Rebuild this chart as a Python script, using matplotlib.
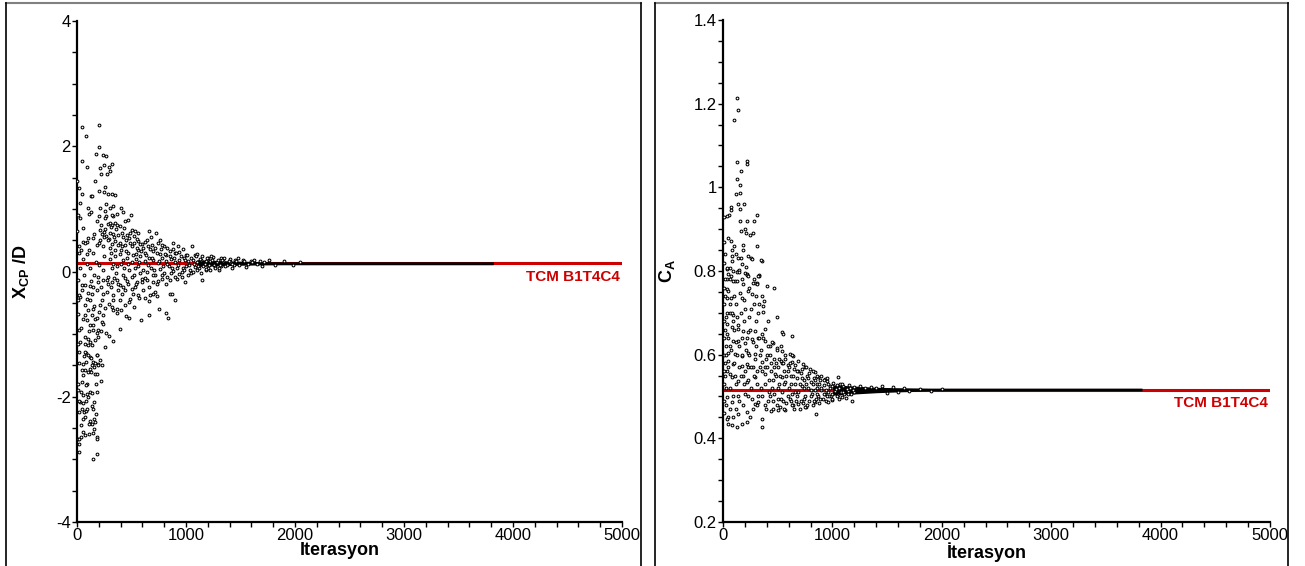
import numpy as np
import matplotlib
matplotlib.use("Agg")
import matplotlib.pyplot as plt
from matplotlib.lines import Line2D
from matplotlib.ticker import MultipleLocator

plt.rcParams['font.family'] = ['Liberation Sans', 'DejaVu Sans']
plt.rcParams['mathtext.fontset'] = 'custom'
plt.rcParams['mathtext.rm'] = 'Liberation Sans'
plt.rcParams['mathtext.bf'] = 'Liberation Sans:bold'

# Data: (iteration, value)
xcp_points = [
    (205, 2.34), (43, 2.30), (83, 2.17), (205, 1.99), (171, 1.88), (235, 1.86), (265, 1.85),
    (49, 1.77), (94, 1.67), (246, 1.70), (214, 1.66), (290, 1.67), (318, 1.71), (220, 1.55),
    (274, 1.55), (305, 1.61), (161, 1.44), (2, 1.45), (257, 1.35), (205, 1.28), (250, 1.27),
    (281, 1.24), (318, 1.24), (349, 1.22), (21, 1.33), (49, 1.23), (125, 1.20), (140, 1.20),
    (30, 1.09), (104, 1.01), (214, 1.01), (254, 0.97), (306, 1.01), (333, 1.05), (400, 1.01),
    (492, 0.91), (367, 0.92), (266, 1.07), (113, 0.92), (128, 0.95), (205, 0.88), (266, 0.89),
    (333, 0.89), (425, 0.95), (437, 0.80), (471, 0.82),
    (280, 0.76), (300, 0.78), (320, 0.74), (345, 0.77), (370, 0.75), (395, 0.73), (310, 0.71),
    (58, 0.70), (2, 0.64), (104, 0.54), (150, 0.54),
    (210, 0.66), (230, 0.60), (250, 0.63), (270, 0.57), (290, 0.52), (215, 0.50), (260, 0.68), (245, 0.55),
    (502, 0.67), (532, 0.65), (563, 0.62), (660, 0.64), (725, 0.61), (761, 0.51), (58, 0.47),
    (95, 0.47), (1052, 0.40), (975, 0.36), (883, 0.36),
    (333, 0.60), (380, 0.58), (420, 0.55), (450, 0.50), (480, 0.53), (520, 0.46), (560, 0.48),
    (600, 0.44), (640, 0.50), (690, 0.42), (740, 0.45), (800, 0.40), (850, 0.33), (610, 0.38),
    (560, 0.35), (500, 0.40), (440, 0.42), (390, 0.46), (350, 0.49), (320, 0.44), (300, 0.38),
    (400, 0.34), (470, 0.30), (540, 0.28), (620, 0.30), (700, 0.32), (760, 0.28), (820, 0.27),
    (900, 0.29), (940, 0.31), (1000, 0.27), (1080, 0.26), (1150, 0.24), (1200, 0.22), (1250, 0.23),
    (1320, 0.21), (1400, 0.20), (1450, 0.19), (1520, 0.18), (1600, 0.17), (1680, 0.165),
    (10, 0.90), (15, 0.30), (20, 0.40), (30, 0.85), (40, 0.35), (55, 0.20), (70, 0.45), (90, 0.28),
    (110, 0.35), (150, 0.30), (180, 0.42),
    (120, 0.05), (160, -0.05), (200, 0.10), (240, 0.02), (280, -0.08), (320, 0.05), (360, -0.02),
    (400, 0.12), (440, -0.10), (480, 0.02), (520, -0.05), (560, 0.08), (600, -0.12), (640, 0.00),
    (680, 0.06), (720, -0.06), (760, 0.04), (800, -0.02), (840, 0.09), (880, 0.01), (920, 0.05),
    (960, 0.00), (1000, 0.08), (1040, 0.03), (1080, 0.07), (1120, 0.05), (1160, 0.09), (1200, 0.06),
    (1260, 0.10), (1320, 0.08), (1380, 0.11), (1440, 0.10),
    (300, 0.20), (350, 0.25), (420, 0.18), (460, 0.22), (500, 0.15), (540, 0.20), (580, 0.24),
    (620, 0.17), (660, 0.22), (700, 0.19), (740, 0.14), (780, 0.21), (820, 0.17), (860, 0.20),
    (900, 0.15), (940, 0.18), (980, 0.21), (1020, 0.16), (1060, 0.19), (1100, 0.15), (1140, 0.18),
    (1180, 0.16), (1220, 0.17), (1280, 0.15), (1340, 0.16), (1400, 0.15),
    (1150, -0.13), (991, -0.17), (899, -0.45), (837, -0.74), (814, -0.66), (755, -0.60), (663, -0.69),
    (587, -0.77), (663, -0.47), (397, -0.92), (333, -1.11), (260, -1.20), (296, -1.03), (269, -0.98),
    (452, -0.71), (477, -0.74), (320, -0.56), (333, -0.62), (370, -0.67), (407, -0.62), (523, -0.57),
    (572, -0.42), (624, -0.43), (670, -0.38), (716, -0.33), (731, -0.39), (853, -0.36), (869, -0.36),
    (43, -0.22), (73, -0.22), (119, -0.23), (150, -0.25), (180, -0.30), (196, -0.17), (242, -0.14),
    (272, -0.14), (288, -0.20), (318, -0.17), (364, -0.13), (394, -0.21), (425, -0.25), (471, -0.20),
    (502, -0.28), (532, -0.25), (547, -0.17), (593, -0.17), (639, -0.14), (700, -0.17), (731, -0.20),
    (777, -0.12), (823, -0.09), (853, -0.14), (914, -0.12), (960, -0.09),
    (28, -0.41), (89, -0.44), (135, -0.36), (242, -0.36), (272, -0.33), (333, -0.38), (379, -0.30),
    (410, -0.36), (440, -0.30), (486, -0.44), (517, -0.36), (563, -0.38), (608, -0.30), (700, -0.36),
    (73, -0.54), (104, -0.62), (150, -0.60), (211, -0.54), (235, -0.69), (296, -0.52), (333, -0.46),
    (364, -0.60), (394, -0.45), (440, -0.54), (480, -0.48),
    (58, -0.76), (89, -0.78), (119, -0.86), (150, -0.86), (165, -0.76), (226, -0.81), (242, -0.84),
    (196, -0.94), (150, -0.94),
    (73, -1.05), (104, -1.08), (119, -1.13), (180, -0.99), (196, -1.05), (28, -1.13), (73, -1.16),
    (104, -1.18), (165, -1.10), (135, -1.18),
    (83, -1.30), (119, -1.37), (180, -1.33), (150, -1.44), (196, -1.47), (58, -1.47), (104, -1.61),
    (165, -1.63), (43, -1.77), (89, -1.79), (83, -1.82),
    (186, -1.33), (217, -1.75), (183, -1.63), (196, -1.50), (226, -1.50), (211, -1.42), (138, -1.50),
    (156, -1.53), (119, -1.55), (73, -1.58), (58, -1.66), (43, -1.58), (76, -1.29), (101, -1.34),
    (131, -1.38), (86, -1.45), (162, -1.46),
    (119, -1.93), (135, -1.94), (180, -1.93), (89, -1.96), (58, -1.98), (34, -1.92), (28, -2.09),
    (52, -2.10), (83, -2.06), (156, -2.09), (138, -2.15), (43, -2.19), (64, -2.25), (83, -2.22),
    (95, -2.19), (73, -2.33), (52, -2.35), (174, -2.27), (156, -2.35), (165, -2.41), (119, -2.39),
    (135, -2.43), (113, -2.43), (156, -2.51), (144, -2.58), (186, -2.65), (186, -2.68), (58, -2.56),
    (73, -2.61), (37, -2.65), (12, -2.68), (21, -2.75), (21, -2.89), (180, -2.91), (144, -3.00),
    (10, -0.14), (15, -0.38), (12, -0.46), (8, -0.68), (15, -0.94), (10, -1.16), (14, -1.28),
    (18, -1.46), (8, -1.79), (5, -1.90), (16, -2.06), (14, -2.25), (18, -2.67),
    (1050, -0.02), (1100, 0.28), (1180, 0.02), (1230, 0.25), (1300, 0.03), (1350, 0.22),
    (1420, 0.06), (1480, 0.21), (1550, 0.07), (1620, 0.19), (1700, 0.09), (1760, 0.18),
    (1820, 0.10), (1900, 0.16), (1980, 0.11), (2050, 0.155),
    # dense core
    (310, 0.30), (330, 0.12), (350, 0.35), (370, 0.08), (390, 0.28), (410, 0.40), (430, 0.05),
    (450, 0.32), (470, 0.12), (490, 0.45), (510, 0.26), (530, 0.05), (550, 0.38), (570, 0.15),
    (590, 0.33), (610, 0.02), (630, 0.27), (650, 0.10), (670, 0.36), (690, 0.22), (710, 0.03),
    (730, 0.30), (750, 0.16), (770, 0.36), (790, 0.08), (810, 0.28), (830, 0.12), (850, 0.24),
    (870, 0.05), (890, 0.22), (910, 0.30), (930, 0.10), (950, 0.25), (970, 0.06), (990, 0.18),
    (1010, 0.26), (1030, 0.10), (1050, 0.21), (1070, 0.12), (1090, 0.24), (1110, 0.08), (1130, 0.20),
    (1170, 0.12), (1190, 0.21), (1210, 0.10), (1240, 0.19), (1270, 0.07), (1290, 0.18), (1310, 0.11),
    (1330, 0.19), (1360, 0.09), (1390, 0.17), (1420, 0.12), (1460, 0.16), (1490, 0.11), (1530, 0.16),
    (1570, 0.12), (1610, 0.155), (1650, 0.115), (1720, 0.15),
    (310, -0.25), (340, -0.10), (380, -0.20), (420, -0.05), (460, -0.15), (500, -0.08), (540, -0.20),
    (580, -0.03), (620, -0.10), (660, -0.25), (700, -0.05), (740, -0.15), (780, -0.05), (820, -0.20),
    (860, -0.02), (900, -0.08), (940, -0.04), (980, 0.02), (1020, -0.06), (1060, 0.00), (1100, 0.02),
    (1140, -0.02), (1180, 0.04), (1220, 0.03), (1270, 0.05), (1300, 0.06),
    (160, 0.60), (180, 0.80), (200, 0.45), (220, 0.75), (240, 0.40), (260, 0.85), (280, 0.50),
    (300, 0.62), (320, 0.90), (340, 0.55), (360, 0.68), (380, 0.42), (410, 0.62), (430, 0.70),
    (460, 0.58), (490, 0.62), (520, 0.56), (550, 0.52), (580, 0.44), (620, 0.47), (650, 0.41),
    (680, 0.55), (720, 0.38), (780, 0.42), (830, 0.38), (880, 0.45), (930, 0.40),
    (30, 0.05), (60, -0.05), (90, 0.12), (130, -0.15), (170, 0.15), (190, -0.08), (220, -0.25),
    (250, 0.25), (120, -0.45), (160, -0.55), (200, -0.65), (230, -0.45), (260, -0.58), (50, -0.30),
    (100, -0.35), (140, -0.70), (180, -0.75), (220, -0.95), (40, -0.90), (70, -0.70), (110, -0.95),
    (60, -1.35), (130, -1.60), (170, -1.80), (100, -2.00), (150, -2.20), (40, -2.45), (110, -2.60),
]

ca_points = [
    (125, 1.213), (140, 1.186), (104, 1.161), (131, 1.060), (222, 1.064), (222, 1.056), (165, 1.038),
    (131, 1.020), (155, 1.005), (116, 0.983), (155, 0.986), (140, 0.959), (189, 0.959), (155, 0.948),
    (73, 0.953), (73, 0.945), (55, 0.935), (40, 0.931), (308, 0.935), (158, 0.919), (222, 0.919),
    (283, 0.919), (162, 0.895), (201, 0.901), (207, 0.891), (247, 0.885), (277, 0.891), (73, 0.871),
    (85, 0.850), (104, 0.860), (180, 0.862), (186, 0.850), (308, 0.859), (231, 0.836), (256, 0.832),
    (262, 0.829), (354, 0.825), (165, 0.830), (140, 0.832), (85, 0.836), (79, 0.824), (171, 0.816),
    (64, 0.808), (34, 0.804), (134, 0.800), (146, 0.802), (201, 0.795), (222, 0.792), (332, 0.790),
    (40, 0.808), (130, 0.798), (145, 0.798), (75, 0.787), (110, 0.776), (130, 0.776), (180, 0.770),
    (290, 0.771), (310, 0.771), (330, 0.788), (350, 0.826), (405, 0.763), (469, 0.759),
    (217, 0.790), (231, 0.788), (323, 0.788), (49, 0.792), (34, 0.780), (94, 0.776), (277, 0.772),
    (308, 0.768), (34, 0.756), (49, 0.751), (73, 0.736), (34, 0.736), (155, 0.748), (171, 0.736),
    (231, 0.752), (262, 0.745), (354, 0.740), (378, 0.729), (363, 0.717), (369, 0.701), (414, 0.681),
    (491, 0.689),
    (34, 0.700), (64, 0.700), (94, 0.695), (125, 0.690), (34, 0.673), (79, 0.665), (140, 0.661),
    (186, 0.657), (231, 0.653), (292, 0.657), (537, 0.653), (552, 0.649), (634, 0.645), (384, 0.661),
    (354, 0.649), (323, 0.641),
    (49, 0.641), (94, 0.633), (140, 0.633), (201, 0.629), (262, 0.637), (384, 0.633), (460, 0.629),
    (430, 0.621), (491, 0.617), (537, 0.609),
    (49, 0.605), (110, 0.602), (171, 0.598), (231, 0.605), (292, 0.602), (612, 0.602), (643, 0.598),
    (567, 0.590), (628, 0.582),
    (49, 0.586), (94, 0.578), (171, 0.574), (217, 0.578), (277, 0.570), (354, 0.582), (734, 0.578),
    (750, 0.570), (688, 0.562), (795, 0.566), (841, 0.558), (871, 0.546), (932, 0.542), (1054, 0.546),
    (34, 0.562), (64, 0.554), (79, 0.546), (140, 0.538), (186, 0.550), (217, 0.534), (292, 0.546),
    (384, 0.554), (475, 0.554), (537, 0.546),
    (400, 0.600), (440, 0.580), (470, 0.590), (500, 0.570), (530, 0.585), (560, 0.560), (590, 0.575),
    (620, 0.550), (650, 0.565), (680, 0.545), (710, 0.555), (740, 0.540), (770, 0.550), (800, 0.535),
    (830, 0.545), (860, 0.530), (890, 0.540), (920, 0.528), (950, 0.536), (980, 0.525), (1010, 0.532),
    (1040, 0.527), (1070, 0.530), (1100, 0.524), (1150, 0.528), (1200, 0.522), (1250, 0.525),
    (1300, 0.521), (1350, 0.523), (1400, 0.520),
    (420, 0.540), (450, 0.520), (480, 0.550), (510, 0.530), (540, 0.510), (570, 0.535), (600, 0.520),
    (630, 0.505), (660, 0.530), (690, 0.510), (720, 0.525), (750, 0.500), (780, 0.520), (810, 0.505),
    (840, 0.515), (870, 0.500), (900, 0.515), (930, 0.505), (960, 0.510), (990, 0.500), (1020, 0.512),
    (1050, 0.503), (1080, 0.510), (1110, 0.505), (1140, 0.512), (1170, 0.507), (1200, 0.511),
    (430, 0.500), (460, 0.490), (500, 0.495), (520, 0.475), (550, 0.490), (580, 0.485), (610, 0.495),
    (640, 0.480), (670, 0.490), (700, 0.470), (730, 0.485), (760, 0.475), (790, 0.490), (820, 0.480),
    (850, 0.495), (880, 0.485), (910, 0.495), (940, 0.490), (970, 0.500), (1000, 0.492), (1060, 0.495),
    (1120, 0.497),
    (34, 0.498), (79, 0.486), (140, 0.502), (201, 0.506), (262, 0.495), (292, 0.483), (49, 0.451),
    (34, 0.447), (94, 0.451), (140, 0.459), (217, 0.463), (247, 0.451), (43, 0.435), (79, 0.431),
    (125, 0.427), (171, 0.435), (217, 0.439), (354, 0.447), (354, 0.427), (308, 0.479), (323, 0.486),
    (384, 0.479), (460, 0.471), (506, 0.467), (567, 0.467), (628, 0.479), (688, 0.483), (750, 0.475),
    (841, 0.486), (850, 0.459), (963, 0.486), (994, 0.495), (1085, 0.498), (1145, 0.506), (1176, 0.490),
    (5, 0.930), (8, 0.870), (10, 0.820), (5, 0.760), (12, 0.720), (8, 0.680), (10, 0.640), (5, 0.600),
    (12, 0.560), (8, 0.530), (10, 0.490), (5, 0.460), (15, 0.780), (18, 0.660), (20, 0.580),
    (22, 0.740), (25, 0.620), (28, 0.690), (25, 0.520), (30, 0.600),
    (60, 0.720), (90, 0.680), (120, 0.720), (160, 0.700), (200, 0.710), (240, 0.690), (280, 0.720),
    (320, 0.700), (60, 0.620), (100, 0.660), (130, 0.600), (170, 0.640), (210, 0.610), (250, 0.660),
    (300, 0.620), (340, 0.600), (60, 0.520), (110, 0.550), (150, 0.570), (190, 0.530), (230, 0.570),
    (260, 0.520), (310, 0.560), (350, 0.520), (380, 0.570),
    (1450, 0.524), (1500, 0.509), (1550, 0.522), (1600, 0.511), (1650, 0.521), (1700, 0.512),
    (1800, 0.519), (1900, 0.514), (2000, 0.518),
    # dense core
    (360, 0.56), (380, 0.53), (400, 0.57), (420, 0.51), (440, 0.56), (460, 0.54), (480, 0.58),
    (500, 0.52), (520, 0.55), (540, 0.58), (560, 0.53), (580, 0.55), (600, 0.57), (620, 0.53),
    (640, 0.55), (660, 0.51), (680, 0.56), (700, 0.53), (720, 0.545), (740, 0.52), (760, 0.53),
    (780, 0.545), (800, 0.515), (820, 0.53), (840, 0.54), (860, 0.52), (880, 0.53), (900, 0.52),
    (920, 0.54), (940, 0.515), (960, 0.53), (980, 0.52), (1000, 0.525), (1030, 0.517), (1060, 0.52),
    (1090, 0.53), (1130, 0.518), (1160, 0.521), (1190, 0.516),
    (350, 0.61), (370, 0.64), (390, 0.59), (410, 0.62), (430, 0.60), (450, 0.63), (470, 0.57),
    (490, 0.61), (510, 0.59), (530, 0.62), (550, 0.58), (570, 0.60), (590, 0.56), (610, 0.58),
    (630, 0.60), (660, 0.575), (690, 0.585), (720, 0.565), (760, 0.57), (790, 0.555), (820, 0.56),
    (860, 0.55), (900, 0.55), (950, 0.545),
    (360, 0.50), (390, 0.47), (410, 0.49), (440, 0.465), (470, 0.505), (490, 0.48), (530, 0.495),
    (560, 0.47), (590, 0.50), (620, 0.49), (650, 0.47), (680, 0.50), (710, 0.49), (740, 0.495),
    (770, 0.48), (800, 0.50), (830, 0.49), (860, 0.505), (890, 0.495), (920, 0.505), (950, 0.50),
    (1000, 0.505), (1040, 0.50), (1100, 0.51),
    (20, 0.55), (40, 0.65), (50, 0.57), (70, 0.61), (80, 0.70), (100, 0.58), (115, 0.63), (120, 0.53),
    (135, 0.67), (150, 0.62), (160, 0.55), (175, 0.60), (190, 0.68), (200, 0.56), (215, 0.64),
    (225, 0.54), (240, 0.60), (255, 0.57), (270, 0.63), (280, 0.55), (290, 0.59), (300, 0.68),
    (315, 0.53), (330, 0.64), (340, 0.57),
    (30, 0.48), (60, 0.47), (90, 0.50), (120, 0.47), (150, 0.49), (180, 0.48), (230, 0.50),
    (270, 0.47), (320, 0.50),
    (20, 0.84), (45, 0.88), (60, 0.78), (90, 0.80), (100, 0.74), (120, 0.84), (170, 0.78),
    (190, 0.73), (210, 0.81), (240, 0.76), (260, 0.71), (280, 0.78), (300, 0.74), (330, 0.72),
]

# converged band (iteration, lower, upper)
xcp_band_iter = [1100, 1300, 1500, 1700, 1900, 3820]
xcp_band_lo = [0.08, 0.09, 0.10, 0.105, 0.108, 0.108]
xcp_band_hi = [0.19, 0.175, 0.165, 0.158, 0.155, 0.155]
ca_band_iter = [1000, 1200, 1400, 1600, 1900, 3830]
ca_band_lo = [0.503, 0.506, 0.509, 0.511, 0.5135, 0.5135]
ca_band_hi = [0.528, 0.525, 0.522, 0.521, 0.5200, 0.5200]

xcp_ref = 0.13
ca_ref = 0.516
ref_label = 'TCM B1T4C4'

x_ticks = [0, 1000, 2000, 3000, 4000, 5000]
xcp_ticks = [-4, -2, 0, 2, 4]
xcp_ticklabels = ['-4', '-2', '0', '2', '4']
ca_ticks = [0.2, 0.4, 0.6, 0.8, 1.0, 1.2, 1.4]
ca_ticklabels = ['0.2', '0.4', '0.6', '0.8', '1', '1.2', '1.4']

red = '#cc0000'

fig = plt.figure(figsize=(13.05, 5.66), dpi=100)
ax1 = fig.add_axes([77 / 1305, 44 / 566, 545 / 1305, 501 / 566])
ax2 = fig.add_axes([723 / 1305, 44 / 566, 547 / 1305, 502 / 566])


def style(ax, yticks, yticklabels, ylim, yminor, ylabel, xlabel):
    ax.set_xlim(0, 5000)
    ax.set_ylim(*ylim)
    ax.set_xticks(x_ticks)
    ax.set_xticklabels([str(t) for t in x_ticks])
    ax.set_yticks(yticks)
    ax.set_yticklabels(yticklabels)
    ax.xaxis.set_minor_locator(MultipleLocator(200))
    ax.yaxis.set_minor_locator(MultipleLocator(yminor))
    for s in ['top', 'right']:
        ax.spines[s].set_visible(False)
    for s in ['left', 'bottom']:
        ax.spines[s].set_linewidth(1.6)
    ax.tick_params(which='both', direction='out', width=1, labelsize=12, pad=1)
    ax.tick_params(which='major', length=3.5)
    ax.tick_params(which='minor', length=3.5)
    ax.set_ylabel(ylabel, fontsize=13, fontweight='bold')
    ax.set_xlabel(xlabel, fontsize=13, fontweight='bold')
    ax.yaxis.set_label_coords(-0.085, 0.5)
    ax.xaxis.set_label_coords(0.483, -0.040)


# left panel
x, y = np.array(xcp_points).T
ax1.axhline(xcp_ref, color=red, lw=2.2, zorder=1)
ax1.fill_between(xcp_band_iter, xcp_band_lo, xcp_band_hi, color='black', lw=0, zorder=2)
ax1.scatter(x, y, s=4, facecolors='white', edgecolors='black', linewidths=0.75, zorder=3)
ax1.text(4980, xcp_ref - 0.21, ref_label, color=red, fontsize=11, fontweight='bold',
         ha='right', va='center')
style(ax1, xcp_ticks, xcp_ticklabels, (-4, 4), 0.5, r'$\mathbf{X_{CP}}$ /D', 'Iterasyon')

# right panel
x, y = np.array(ca_points).T
ax2.axhline(ca_ref, color=red, lw=2.2, zorder=1)
ax2.fill_between(ca_band_iter, ca_band_lo, ca_band_hi, color='black', lw=0, zorder=2)
ax2.scatter(x, y, s=4, facecolors='white', edgecolors='black', linewidths=0.75, zorder=3)
ax2.text(4980, ca_ref - 0.032, ref_label, color=red, fontsize=11, fontweight='bold',
         ha='right', va='center')
style(ax2, ca_ticks, ca_ticklabels, (0.2, 1.4), 0.05, r'$\mathbf{C_A}$', 'İterasyon')

# panel frames
W, H = 1305, 566
for x0, x1 in [(6, 641), (655, 1288)]:
    fig.add_artist(Line2D([x0 / W, x1 / W], [1 - 3 / H, 1 - 3 / H], color='#808080', lw=1.5))
    fig.add_artist(Line2D([x0 / W, x0 / W], [0, 1 - 3 / H], color='black', lw=1.2))
    fig.add_artist(Line2D([x1 / W, x1 / W], [0, 1 - 3 / H], color='black', lw=1.2))

fig.savefig('out.png', dpi=100)
